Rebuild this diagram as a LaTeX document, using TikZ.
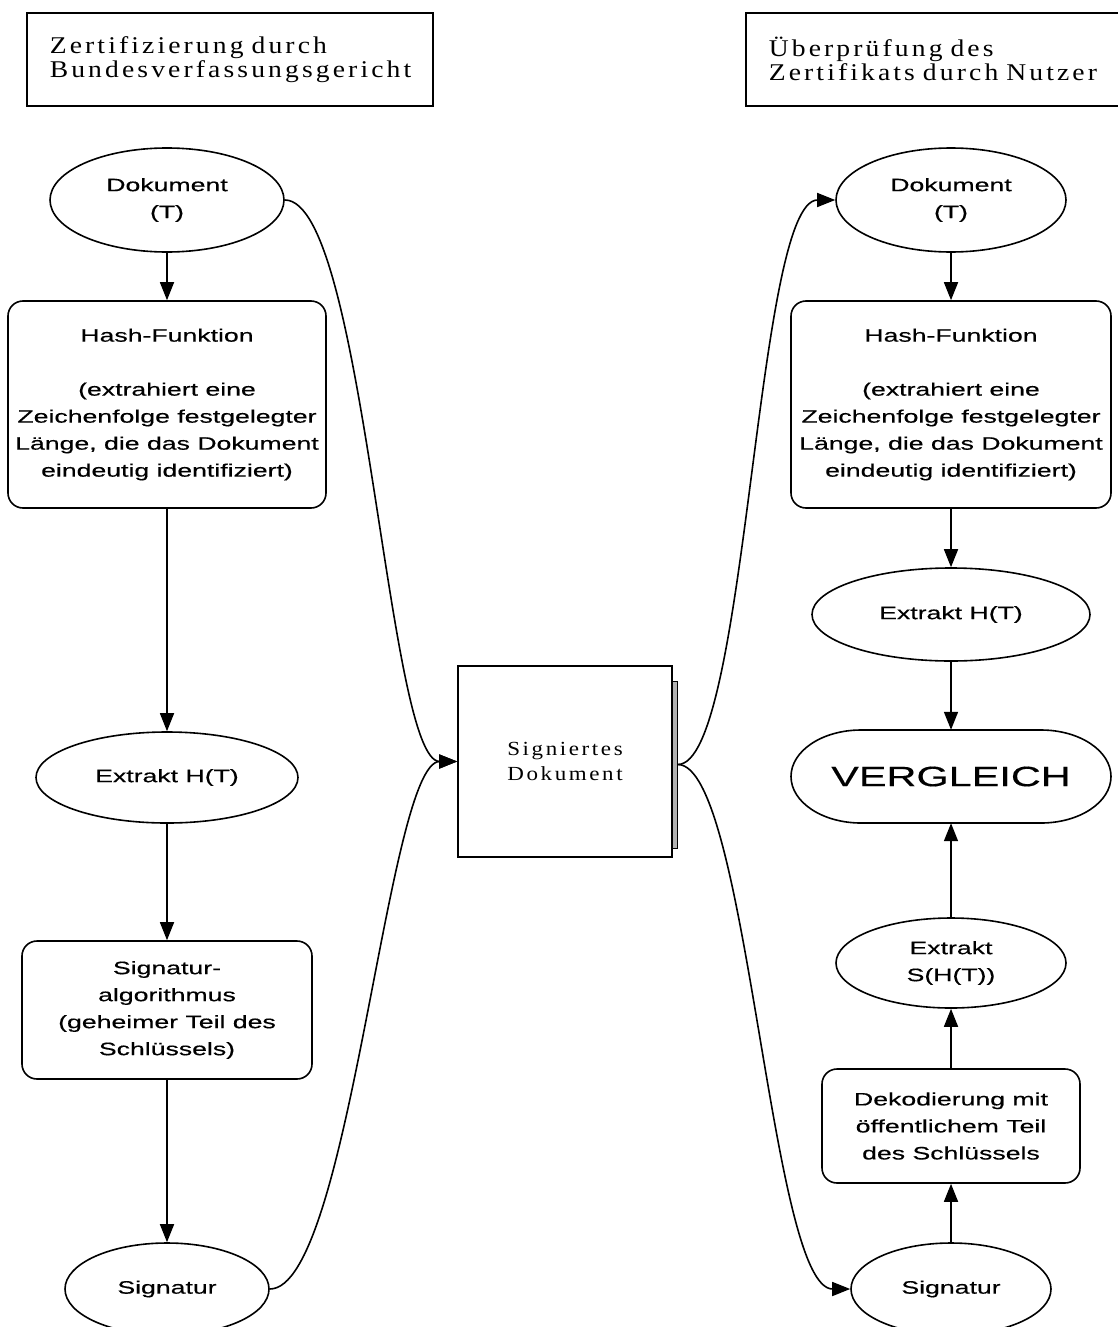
\documentclass[tikz,border=0pt]{standalone}
\usepackage{fontspec}
\setmainfont{Liberation Sans}
\newfontfamily\sansx[FakeStretch=1.48,FakeBold=0.4]{Liberation Sans}
\newfontfamily\serifx[FakeStretch=1.15,LetterSpace=13,WordSpace=1.6]{Liberation Serif}
\usetikzlibrary{shapes.geometric,arrows.meta}
\tikzset{
  ln/.style={line width=1.6pt},
  ell/.style={ellipse, draw, ln, inner sep=0pt, align=center, font=\sansx\fontsize{18}{27}\selectfont},
  rbox/.style={rectangle, rounded corners=15pt, draw, ln, inner sep=0pt, align=center, font=\sansx\fontsize{18}{27}\selectfont},
  titlebox/.style={rectangle, draw, ln, align=left, inner xsep=23pt, anchor=north west, minimum height=93pt, font=\serifx\fontsize{24}{24}\selectfont},
  arr/.style={ln, -{Triangle[width=14pt,length=18pt]}},
}
\begin{document}
\begin{tikzpicture}[x=1pt,y=-1pt]
\useasboundingbox (0,0) rectangle (1118,1327);
\clip (0,0) rectangle (1118,1327);

% titles
\node[titlebox, text width=360pt] (t1) at (26,12) {Zertifizierung durch\\Bundesverfassungsgericht};
\node[titlebox, text width=352pt] (t2) at (745,12) {Überprüfung des\\Zertifikats durch Nutzer};

% left column
\node[ell, minimum width=234pt, minimum height=104pt] (ldoc) at (167,200) {Dokument\\(T)};
\node[rbox, minimum width=318pt, minimum height=207pt] (lhash) at (167,404.5) {Hash-Funktion\\[27pt](extrahiert eine\\Zeichenfolge festgelegter\\Länge, die das Dokument\\eindeutig identifiziert)};
\node[ell, minimum width=262pt, minimum height=91pt] (lext) at (167,777.5) {Extrakt H(T)};
\node[rbox, minimum width=290pt, minimum height=138pt] (lalg) at (167,1010) {Signatur-\\algorithmus\\(geheimer Teil des\\Schlüssels)};
\node[ell, minimum width=204pt, minimum height=92pt] (lsign) at (167,1289) {Signatur};

% middle
\node[rectangle, draw=black, fill=gray!60, line width=0.8pt, minimum width=5pt, minimum height=167pt, inner sep=0pt, anchor=west] (sdsh) at (672,764.5) {};
\node[rectangle, draw, ln, fill=white, minimum width=214pt, minimum height=191pt, align=center, font=\serifx\fontsize{20}{25}\selectfont] (sd) at (565,761.5) {Signiertes\\Dokument};

% right column
\node[ell, minimum width=230pt, minimum height=104pt] (rdoc) at (951,200) {Dokument\\(T)};
\node[rbox, minimum width=320pt, minimum height=207pt] (rhash) at (951,404.5) {Hash-Funktion\\[27pt](extrahiert eine\\Zeichenfolge festgelegter\\Länge, die das Dokument\\eindeutig identifiziert)};
\node[ell, minimum width=278pt, minimum height=93pt] (rext) at (951,614.5) {Extrakt H(T)};
\node[inner sep=0pt, minimum width=320pt, minimum height=93pt, font=\sansx\fontsize{28}{30}\selectfont] (verg) at (951,776.5) {VERGLEICH};
\draw[ln] (861,730) -- (1041,730) arc[start angle=90,end angle=-90,x radius=70pt,y radius=46.5pt] -- (861,823) arc[start angle=270,end angle=90,x radius=70pt,y radius=46.5pt] -- cycle;
\node[ell, minimum width=230pt, minimum height=90pt] (rexts) at (951,963) {Extrakt\\S(H(T))};
\node[rbox, minimum width=258pt, minimum height=114pt] (rdek) at (951,1126) {Dekodierung mit\\öffentlichem Teil\\des Schlüssels};
\node[ell, minimum width=200pt, minimum height=92pt] (rsign) at (951,1289) {Signatur};

% vertical arrows left
\draw[arr] (ldoc.south) -- (lhash.north);
\draw[arr] (lhash.south) -- (lext.north);
\draw[arr] (lext.south) -- (lalg.north);
\draw[arr] (lalg.south) -- (lsign.north);

% vertical arrows right
\draw[arr] (rdoc.south) -- (rhash.north);
\draw[arr] (rhash.south) -- (rext.north);
\draw[arr] (rext.south) -- (verg.north);
\draw[arr] (rexts.north) -- (verg.south);
\draw[arr] (rdek.north) -- (rexts.south);
\draw[arr] (rsign.north) -- (rdek.south);

% curved connectors
\draw[arr] (ldoc.east) .. controls +(80,0) and +(-70,0) .. (sd.west);
\draw[arr] (lsign.east) .. controls +(80,0) and +(-70,0) .. (sd.west);
\draw[arr] (sdsh.east) .. controls +(70,0) and +(-80,0) .. (rdoc.west);
\draw[arr] (sdsh.east) .. controls +(70,0) and +(-80,0) .. (rsign.west);
\end{tikzpicture}
\end{document}
